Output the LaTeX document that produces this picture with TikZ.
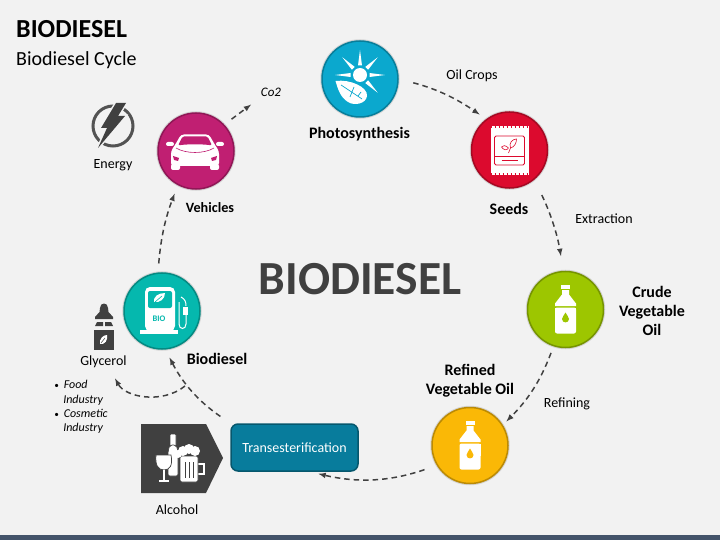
\documentclass[tikz,border=0pt]{standalone}
\usepackage{fontspec}
\setmainfont{Carlito}
\usetikzlibrary{shapes, calc}

\definecolor{pagegray}{HTML}{F2F2F2}
\definecolor{bandblue}{HTML}{44546A}
\definecolor{darkgray}{HTML}{404040}
\definecolor{photoblue}{HTML}{0BA8CE}
\definecolor{seedred}{HTML}{DC0A2E}
\definecolor{crudegreen}{HTML}{9DC600}
\definecolor{refinedgold}{HTML}{FAB806}
\definecolor{bioteal}{HTML}{05B8AE}
\definecolor{carmagenta}{HTML}{C01F72}
\definecolor{transblue}{HTML}{087C9C}

\tikzset{
	stage/.style={draw=#1!75!black, fill=#1, circle, line width=1.5pt, minimum size=76pt, inner sep=0pt,
		preaction={draw=black, draw opacity=.12, line width=3.5pt}},
	flow/.style={->, >=latex, darkgray, line width=1.5pt, dash pattern=on 5.5pt off 4pt},
	stagelabel/.style={font=\fontsize{16}{19}\selectfont\bfseries, align=center, text=black},
	steplabel/.style={font=\fontsize{14}{15}\selectfont, align=center, text=black},
	pics/bottle/.style={code={
		\fill[white] (-4.5,-24.5) rectangle (4.5,-21);
		\fill[white] (-3.5,-19.5) -- (3.5,-19.5) -- (3.5,-15) -- (10.5,-6) -- (10.5,-3.5) -- (-10.5,-3.5) -- (-10.5,-6) -- (-3.5,-15) -- cycle;
		\fill[white, rounded corners=2pt] (-10.5,-2) -- (10.5,-2) -- (10.5,24) -- (-10.5,24) -- cycle;
		\fill[white] (-10.5,-2) rectangle (10.5,10);
		\fill[#1] (0,3) .. controls (1,6) and (3.5,7) .. (3.5,9.5) .. controls (3.5,14) and (-3.5,14) .. (-3.5,9.5) .. controls (-3.5,7) and (-1,6) .. (0,3) -- cycle;
	}},
	pics/sunleaf/.style={code={
		\fill[white] (0,-4) circle (7);
		\foreach \a in {90,45,0,180,135,-45}
			\fill[white, shift={(0,-4)}, rotate=\a] (9.5,-2) -- (25,0) -- (9.5,2) -- cycle;
		\fill[white] (-24.5,2) .. controls (-10,0) and (8,8) .. (7,17) .. controls (6,25) and (-6,27) .. (-12,23) .. controls (-20,18) and (-22,10) .. (-24.5,2) -- cycle;
		\draw[photoblue, line width=.7pt] (-19,6) -- (2,20) (-8,13) -- (-6,8) (-8,13) -- (-10,18) (-2,17) -- (1,13);
	}},
	pics/car/.style={code={
		\fill[white, rounded corners=2pt] (-30,-9) rectangle (-22,-5);
		\fill[white, rounded corners=2pt] (20,-9) rectangle (28,-5);
		\fill[white, rounded corners=2pt] (-25,13) rectangle (-16,19);
		\fill[white, rounded corners=2pt] (14,13) rectangle (23,19);
		\fill[white, rounded corners=3pt] (-15,-16.5) -- (13,-16.5) -- (19,-6) -- (23,0) -- (23,15) -- (-25,15) -- (-25,0) -- (-21,-6) -- cycle;
		\fill[carmagenta, rounded corners=1.5pt] (-13.5,-14.5) -- (11.5,-14.5) -- (16,-5.5) .. controls (8,-7) and (-10,-7) .. (-18,-5.5) -- cycle;
		\draw[carmagenta, line width=.6pt] (-20,-3) .. controls (-10,3) and (8,3) .. (18,-3);
		\fill[carmagenta] (-23,5) -- (-17,7) -- (-18,10) -- (-22,9) -- cycle;
		\fill[carmagenta] (21,5) -- (15,7) -- (16,10) -- (20,9) -- cycle;
	}},
	pics/packet/.style={code={
		\fill[white] (-19,-24) rectangle (19,25);
		\draw[seedred, line width=2.5pt, dash pattern=on 1.4pt off 2.6pt] (-19,-23) -- (19,-23) (-19,24) -- (19,24);
		\draw[seedred, line width=.8pt, rounded corners=1.5pt] (-15,-14) rectangle (15,15);
		\draw[seedred, line width=.8pt] (-15,6) -- (15,6) (-8,10) -- (8,10);
		\draw[seedred, line width=.6pt] (-1,3) -- (1,-2) (1,-2) .. controls (-1,-7) and (3,-11) .. (7,-11) .. controls (7,-7) and (5,-3) .. (1,-2) (-1,-2) .. controls (-4,-5) and (-7,-5) .. (-8,-3) .. controls (-6,0) and (-3,1) .. (-1,-2);
	}},
	pics/pump/.style={code={
		\fill[white, rounded corners=5pt] (-17,20) -- (-17,-24) -- (13,-24) -- (13,20) -- cycle;
		\fill[white] (-22,19) rectangle (16,23);
		\fill[bioteal, rounded corners=2pt] (-14,-20) rectangle (10,-3);
		\fill[white] (-8,-9) .. controls (-9,-14) and (-4,-18) .. (3,-18) .. controls (3,-12) and (-2,-8) .. (-8,-9) -- cycle;
		\draw[bioteal, line width=.6pt] (-7,-9) -- (0,-15);
		\node[text=bioteal, font=\fontsize{8.5}{9}\selectfont\bfseries, inner sep=0pt] (biotag) at (-3,8) {BIO};
		\draw[white, line width=1pt] (19,-14) .. controls (23,-12) and (24,-9) .. (24,-5) (24,3) -- (24,13) .. controls (24,19) and (17,19) .. (17,13) -- (17,-9);
		\fill[white] (21,-4) rectangle (25.5,3.5);
	}},
	pics/energy/.style={code={
		\draw[darkgray!90, line width=3pt] (0,0) circle (20);
		\fill[darkgray, preaction={draw=pagegray, line width=3pt}] (3,-23) -- (13,-23) -- (5,-10) -- (12,-10) -- (-15,22) -- (-6,2) -- (-12,2) -- cycle;
	}},
	pics/dropper/.style={code={
		\fill[darkgray] (-9,-10) -- (-4.5,-15) -- (-4,-19) .. controls (-4,-25) and (4,-25) .. (4,-19) -- (4.5,-15) -- (9,-10) -- (9,-8) -- (-9,-8) -- cycle;
		\fill[darkgray] (-7,-5) -- (-1,-5) -- (-1,-1) -- (-9,-1) -- cycle (1,-5) -- (7,-5) -- (9,-1) -- (1,-1) -- cycle;
		\fill[darkgray] (-10,3) rectangle (10,23);
		\fill[white] (-4,17) .. controls (-5,12) and (-1,8) .. (3,8) .. controls (4,13) and (1,18) .. (-4,17) -- cycle;
		\draw[darkgray, line width=.5pt] (-3,16) -- (1,11);
	}},
	pics/drinks/.style={code={
		\fill[white, draw=darkgray, line width=.6pt, rounded corners=1pt] (-10,-24) rectangle (-4,-12);
		\fill[white, draw=darkgray, line width=.6pt, rounded corners=2pt] (-10,-13) -- (-4,-13) -- (-2,-7) -- (-2,18) -- (-12,18) -- (-12,-7) -- cycle;
		\fill[white, draw=darkgray, line width=.7pt] (-24,-3) -- (-9,-3) .. controls (-7,7) and (-10,12) .. (-16,12) .. controls (-22,12) and (-25,7) .. (-24,-3) -- cycle;
		\fill[white] (-16.7,12) rectangle (-15.3,22);
		\fill[white] (-21,22) rectangle (-11,23.5);
		\draw[white, line width=1.3pt] (18,6) -- (24,6) -- (24,16) -- (18,16);
		\fill[white, draw=darkgray, line width=.7pt, rounded corners=2pt] (0,-2) rectangle (18,24);
		\draw[darkgray, line width=.8pt] (5,4) -- (5,20) (9,4) -- (9,20) (13,4) -- (13,20);
		\fill[white] (-2,-4) circle (4) (3,-7) circle (5) (9,-9) circle (5) (15,-7) circle (5) (1,-1) rectangle (17,3);
	}}
}

\begin{document}
\begin{tikzpicture}[x=1pt, y=-1pt]
	\useasboundingbox (0,0) rectangle (720,540);
	\fill[pagegray] (0,0) rectangle (720,540);
	\fill[bandblue] (0,535) rectangle (720,540);

	\node[font=\fontsize{26}{30}\selectfont\bfseries, anchor=west, inner sep=0pt] (title) at (16,29) {BIODIESEL};
	\node[font=\fontsize{20}{22}\selectfont, anchor=west, inner sep=0pt] (subtitle) at (16,60) {Biodiesel Cycle};
	\node[font=\fontsize{47.5}{50}\selectfont\bfseries, text=darkgray, inner sep=0pt] (maintopic) at (360,279) {BIODIESEL};

	\node[stage=photoblue]   (photo)    at (360,79)    {};
	\node[stage=seedred]     (seeds)    at (509.5,150) {};
	\node[stage=crudegreen]  (crude)    at (565.5,309.5) {};
	\node[stage=refinedgold] (refined)  at (470,445.5) {};
	\node[stage=bioteal]     (biodiesel) at (162,311)  {};
	\node[stage=carmagenta]  (vehicles) at (196,151)   {};

	\pic at (photo) {sunleaf};
	\pic at (seeds) {packet};
	\pic at (crude) {bottle=crudegreen};
	\pic at (refined) {bottle=refinedgold};
	\pic at (biodiesel) {pump};
	\pic at (vehicles) {car};
	\pic at (113,126) {energy};
	\pic at (104,327) {dropper};

	\node[stagelabel] (photolabel)   at (359.5,134) {Photosynthesis};
	\node[stagelabel] (seedslabel)   at (509,209)   {Seeds};
	\node[stagelabel] (crudelabel)   at (652,311)   {Crude\\Vegetable\\Oil};
	\node[stagelabel] (refinedlabel) at (470,381)   {Refined\\Vegetable Oil};
	\node[stagelabel] (biolabel)     at (217,358.5) {Biodiesel};
	\node[font=\fontsize{14.2}{15}\selectfont\bfseries] (carlabel) at (210,208) {Vehicles};

	\node[steplabel] (energy)     at (113,165.5) {Energy};
	\node[steplabel] (oilcrops)   at (472,75.5)  {Oil Crops};
	\node[steplabel] (extraction) at (604,219)   {Extraction};
	\node[steplabel] (refining)   at (567,404)   {Refining};
	\node[steplabel] (glycerol)   at (103.5,362) {Glycerol};
	\node[steplabel] (alcohol)    at (177,510)   {Alcohol};
	\node[steplabel, font=\fontsize{13}{15}\selectfont\itshape] (co2) at (271,92) {Co2};

	\node[font=\fontsize{12}{14.3}\selectfont\itshape, align=left, inner sep=0pt] (uses) at (81,407)
		{{\small\textbullet}\hspace{5pt}Food\\\hspace{9pt}Industry\\{\small\textbullet}\hspace{5pt}Cosmetic\\\hspace{9pt}Industry};

	\fill[darkgray] (141,424) -- (206,424) -- (223,458) -- (206,493) -- (141,493) -- cycle;
	\pic at (180,458) {drinks};

	\node[draw=transblue!70!black, fill=transblue, rounded corners=7pt, line width=1.5pt, minimum width=127pt, minimum height=47pt,
		text=white, font=\fontsize{14}{15}\selectfont] (trans) at (294.5,447.5) {Transesterification};

	\coordinate (branch) at (185,386);

	\draw[flow, shorten <=15pt, shorten >=8pt] (photo.east) to[bend left=10] (seeds.127);
	\draw[flow, shorten <=17pt, shorten >=15pt] (seeds.-50) to[bend left=8] (crude.93);
	\draw[flow, shorten <=7pt, shorten >=5pt] (crude.-108) to[bend left=12] (refined.32);
	\draw[flow, shorten <=13pt, shorten >=9pt] (refined.-149) to[bend left=16] (trans.-58);
	\draw[flow, shorten <=12pt, shorten >=9pt] (trans.north west) to[bend left=14] (biodiesel.-85);
	\draw[flow, shorten >=8pt] (branch) to[bend left=50] (glycerol.-51);
	\draw[flow, shorten <=9pt, shorten >=9pt] (biodiesel.96) to[bend left=8] (vehicles.-118);
	\draw[flow, shorten <=9pt, shorten >=8pt] (vehicles.43) -- (co2.south west);
\end{tikzpicture}
\end{document}
